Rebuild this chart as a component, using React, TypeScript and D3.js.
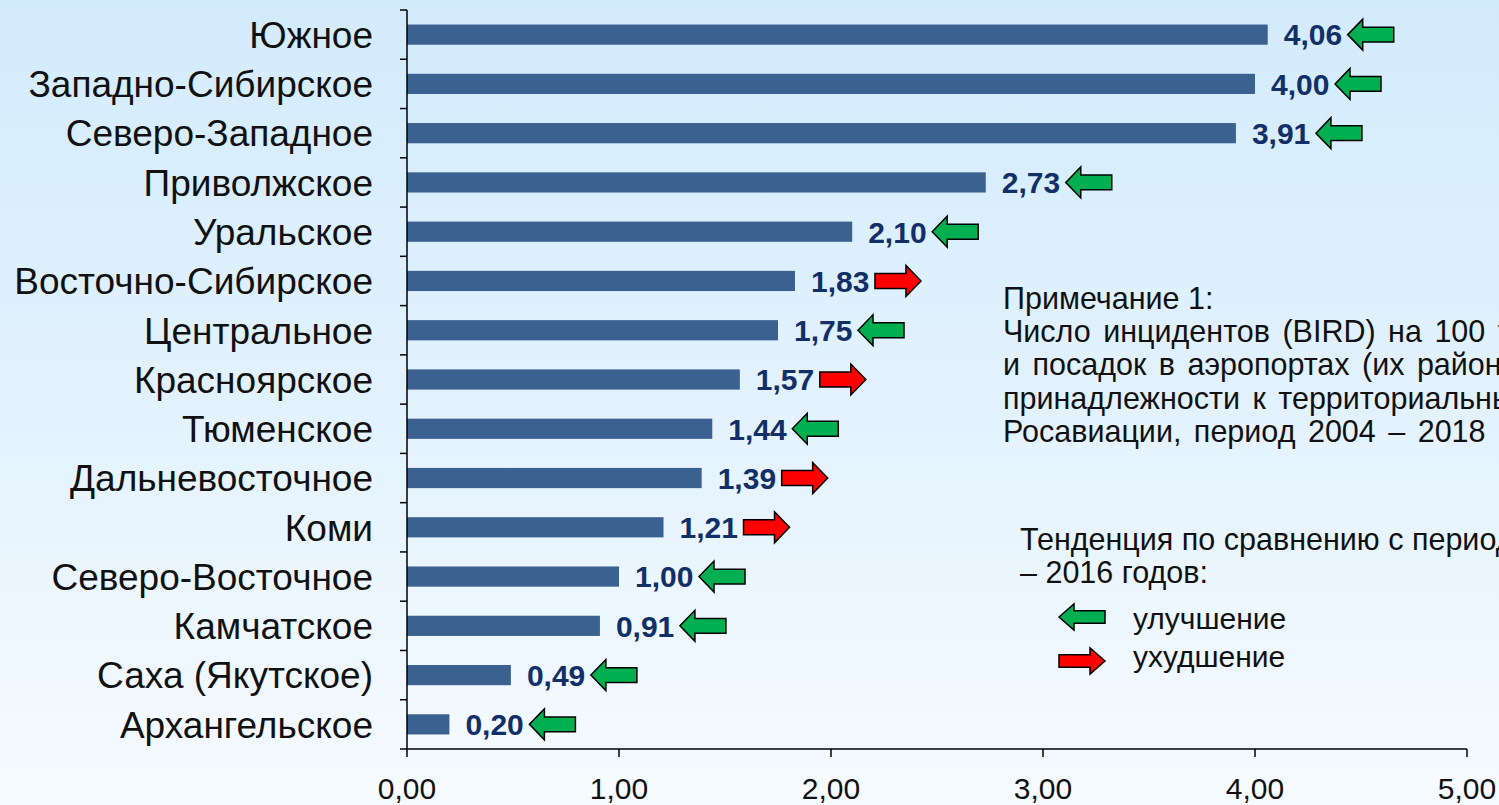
import React from 'react';
import * as d3 from 'd3';

const regions = [
  'Южное', 'Западно-Сибирское', 'Северо-Западное', 'Приволжское', 'Уральское',
  'Восточно-Сибирское', 'Центральное', 'Красноярское', 'Тюменское', 'Дальневосточное',
  'Коми', 'Северо-Восточное', 'Камчатское', 'Саха (Якутское)', 'Архангельское',
];
const values = [4.06, 4.0, 3.91, 2.73, 2.1, 1.83, 1.75, 1.57, 1.44, 1.39, 1.21, 1.0, 0.91, 0.49, 0.2];
// true = улучшение (green, left), false = ухудшение (red, right)
const improved = [true, true, true, true, true, false, true, false, true, false, false, true, true, true, true];
const xTicks = [0, 1, 2, 3, 4, 5];

const noteLines = [
  'Примечание 1:',
  'Число инцидентов (BIRD) на 100 тыс. взлетов',
  'и посадок в аэропортах (их районах) по',
  'принадлежности к территориальным органам',
  'Росавиации, период 2004 – 2018 гг.',
];
const trendLines = ['Тенденция по сравнению с периодом 2004', '– 2016 годов:'];

const W = 1499, H = 805;
const fmt = (v: number) => v.toFixed(2).replace('.', ',');

function Arrow({ x, y, left, hh = 15.5 }: { x: number; y: number; left: boolean; hh?: number }) {
  // block arrow 46 wide, x = left edge, y = centre
  const w = 46, s = hh * 0.48, head = 15;
  const pts = left
    ? [[0, 0], [head, -hh], [head, -s], [w, -s], [w, s], [head, s], [head, hh]]
    : [[w, 0], [w - head, -hh], [w - head, -s], [0, -s], [0, s], [w - head, s], [w - head, hh]];
  return (
    <polygon
      points={pts.map(p => `${x + p[0]},${y + p[1]}`).join(' ')}
      fill={left ? '#00b050' : '#ff0000'}
      stroke="#000" strokeWidth={1.5} strokeLinejoin="miter"
    />
  );
}

export default function App() {
  const x = d3.scaleLinear().domain([0, 5]).range([407, 1467]);
  const y = d3.scaleBand().domain(regions).range([10, 749]).paddingInner(0.59).paddingOuter(0.295);
  const step = y.step();
  const font = 'Arial, "Liberation Sans", sans-serif';

  return (
    <div style={{ position: 'absolute', left: 0, top: 0 }}>
      <svg width={W} height={H} style={{ display: 'block' }}>
        <defs>
          <linearGradient id="bg" x1="0" y1="0" x2="0" y2="1">
            <stop offset="0" stopColor="#d2ebfc" />
            <stop offset="0.5" stopColor="#e2f2fd" />
            <stop offset="1" stopColor="#f6fbff" />
          </linearGradient>
        </defs>
        <rect width={W} height={H} fill="url(#bg)" />

        {/* bars */}
        {regions.map((r, i) => (
          <rect key={r} x={x(0)} y={y(r)!} width={x(values[i]) - x(0)} height={y.bandwidth()} fill="#3a6190" />
        ))}

        {/* axes */}
        <g stroke="#000" strokeWidth={1.5} fill="none">
          <line x1={x(0)} x2={x(0)} y1={10} y2={749} />
          <line x1={x(0)} x2={x(5)} y1={749} y2={749} />
          {d3.range(regions.length + 1).map(i => (
            <line key={i} x1={400} x2={x(0)} y1={10 + i * step} y2={10 + i * step} />
          ))}
          {xTicks.map(t => (
            <line key={t} x1={x(t)} x2={x(t)} y1={749} y2={757} />
          ))}
        </g>

        {/* category labels */}
        {regions.map(r => (
          <text key={r} x={373} y={y(r)! + y.bandwidth() / 2} dy="0.36em" textAnchor="end"
            fontFamily={font} fontSize={37} fill="#111">{r}</text>
        ))}

        {/* x tick labels */}
        {xTicks.map(t => (
          <text key={t} x={x(t)} y={799} textAnchor="middle" fontFamily={font} fontSize={30} fill="#111">{fmt(t)}</text>
        ))}

        {/* value labels + arrows */}
        {regions.map((r, i) => {
          const lx = x(values[i]) + 16;
          const cy = y(r)! + y.bandwidth() / 2;
          return (
            <g key={r}>
              <text x={lx} y={cy} dy="0.36em" fontFamily={font} fontSize={30} fontWeight="bold" fill="#122f68">
                {fmt(values[i])}
              </text>
              <Arrow x={lx + 64} y={cy} left={improved[i]} />
            </g>
          );
        })}

        {/* note (justified in the original, so slightly wider word gaps) */}
        {noteLines.map((l, i) => (
          <text key={i} x={1003} y={309 + i * 33.2} fontFamily={font} fontSize={30.5}
            wordSpacing={i === 0 ? 0 : 4} fill="#111">{l}</text>
        ))}
        {trendLines.map((l, i) => (
          <text key={i} x={1020} y={550 + i * 33.2} fontFamily={font} fontSize={30.5} fill="#111">{l}</text>
        ))}
        <Arrow x={1059} y={617} left={true} hh={13} />
        <text x={1133} y={629} fontFamily={font} fontSize={30} fill="#111">улучшение</text>
        <Arrow x={1059} y={661} left={false} hh={13} />
        <text x={1133} y={667} fontFamily={font} fontSize={30} fill="#111">ухудшение</text>
      </svg>
    </div>
  );
}
